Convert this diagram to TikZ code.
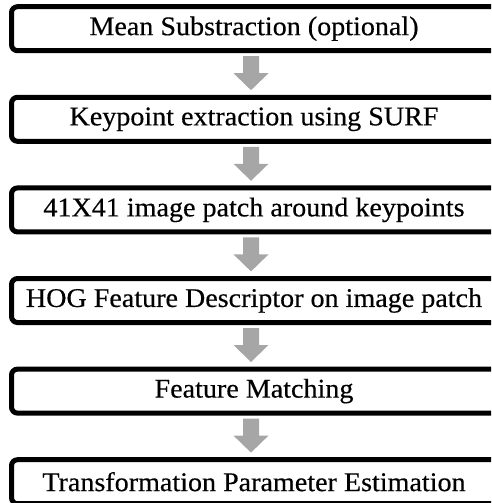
\documentclass[tikz,border=0pt]{standalone}
\usepackage{fontspec}
\setmainfont{Liberation Serif}[FakeStretch=1.04, FakeBold=0.4]
\usetikzlibrary{calc}
\definecolor{arrowgray}{HTML}{A6A6A6}
\tikzset{
  stepbox/.style={draw=black, line width=5pt, rounded corners=6pt,
    minimum width=493pt, minimum height=44pt, inner sep=0pt, fill=white},
  steptext/.style={font=\fontsize{27}{31}\selectfont, inner sep=0pt},
  flowarrow/.style={fill=arrowgray, draw=none}
}
\begin{document}
\begin{tikzpicture}[x=1pt,y=1pt]
\useasboundingbox (0,0) rectangle (491,-503);
\begin{scope}
\clip (0,0) rectangle (491,-503);
% process steps, top to bottom
\foreach \i/\t in {0/{Mean Substraction (optional)},
                   1/{Keypoint extraction using SURF},
                   2/{41X41 image patch around keypoints},
                   3/{HOG Feature Descriptor on image patch},
                   4/{Feature Matching},
                   5/{Transformation Parameter Estimation}} {
  \node[stepbox] (b\i) at (258, {-(28.7+90.6*\i)}) {};
  \node[steptext] (t\i) at ($(b\i)+(-4,0)$) {\t};
}
% block arrows between consecutive steps
\foreach \i [evaluate=\i as \p using int(\i-1)] in {1,...,5} {
  \coordinate (s\i) at ($(b\p.south)+(-7,-3)$);
  \fill[flowarrow] ($(s\i)+(-8,0)$) -- ++(0,-17) -- ++(-9.5,0)
    -- ($(s\i)+(0,-34)$) -- ($(s\i)+(17.5,-17)$) -- ++(-9.5,0)
    -- ($(s\i)+(8,0)$) -- cycle;
}
\end{scope}
\end{tikzpicture}
\end{document}
